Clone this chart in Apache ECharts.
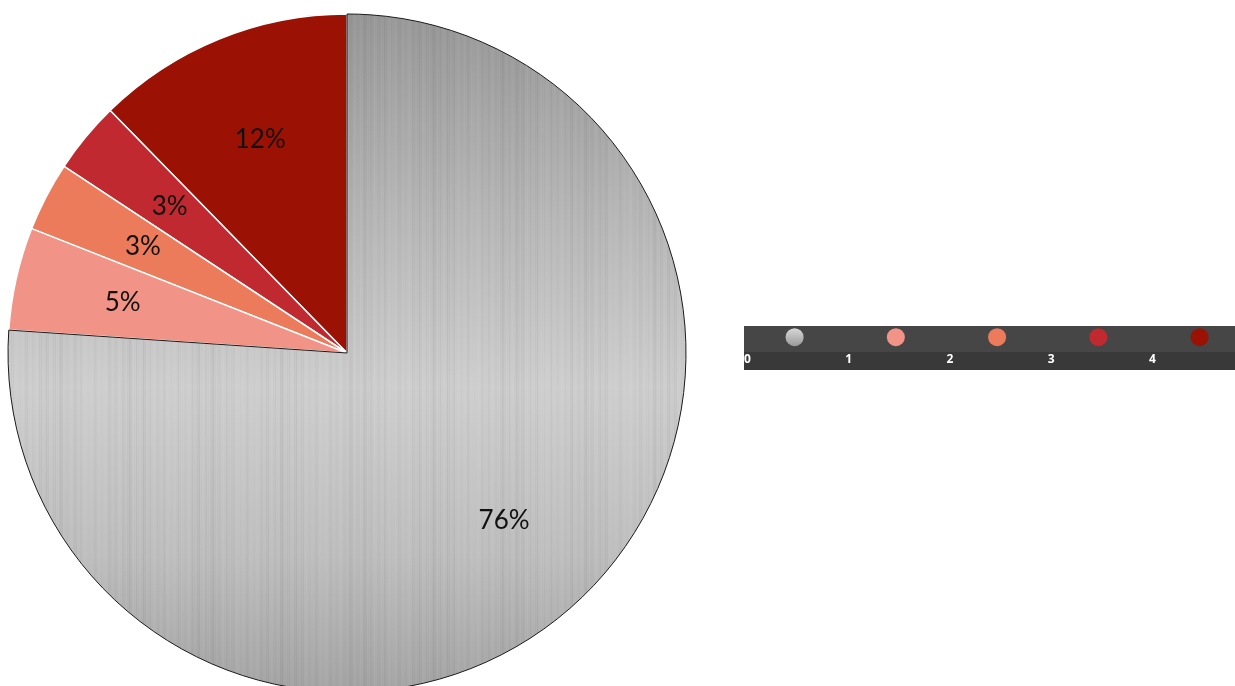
<!DOCTYPE html>
<html>
<head>
<meta charset="utf-8">
<script src="https://cdn.jsdelivr.net/npm/echarts@6/dist/echarts.min.js"></script>
<style>html,body{margin:0;padding:0;background:#fff}#c{width:1235px;height:686px}</style>
</head>
<body>
<div id="c"></div>
<script>
// Data (clockwise from 12 o'clock: gray, pink, orange, red, dark red)
var categories = ['0', '1', '2', '3', '4'];
var values = [76.0, 4.9, 3.3, 3.4, 12.3];
var sliceColors = ['#b9b9b9', '#f19387', '#ec7b5b', '#c0292f', '#9b1204'];
var legendTicks = [0, 1, 2, 3, 4];
var legendPositions = [0.5, 1.5, 2.5, 3.5, 4.5];

// brushed metal texture for the gray slice
function metal() {
  var cv = document.createElement('canvas');
  cv.width = 1235; cv.height = 686;
  var ctx = cv.getContext('2d');
  var g = ctx.createLinearGradient(0, 14, 0, 692);
  g.addColorStop(0, '#989898');
  g.addColorStop(0.3, '#b7b7b7');
  g.addColorStop(0.55, '#cecece');
  g.addColorStop(0.8, '#bebebe');
  g.addColorStop(1, '#a4a4a4');
  ctx.fillStyle = g;
  ctx.fillRect(0, 0, 1235, 686);
  for (var x = 0; x < 700; x++) {
    var v = Math.sin(x * 0.91) * 0.5 + Math.sin(x * 0.37 + 1.3) * 0.3 + Math.sin(x * 2.71 + 0.4) * 0.4 + Math.sin(x * 0.083) * 0.3;
    var a = Math.min(0.09, Math.abs(v) * 0.045);
    ctx.fillStyle = v > 0 ? 'rgba(255,255,255,' + a + ')' : 'rgba(0,0,0,' + a + ')';
    ctx.fillRect(x, 0, 1, 686);
  }
  return cv;
}

var chart = echarts.init(document.getElementById('c'));
var metalCanvas = metal();

// reverse order so gray is drawn last (counterclockwise from top)
var pieData = [];
for (var i = categories.length - 1; i >= 0; i--) {
  var isGray = i === 0;
  pieData.push({
    name: categories[i],
    value: values[i],
    itemStyle: {
      color: isGray ? { image: metalCanvas, repeat: 'no-repeat' } : sliceColors[i],
      borderColor: isGray ? '#1a1a1a' : '#ffffff',
      borderWidth: isGray ? 1 : 1.5
    }
  });
}
var labelData = pieData.map(function (d) { return { name: d.name, value: d.value }; });

var legendData = legendPositions.map(function (x, i) {
  var c = sliceColors[i];
  if (i === 0) {
    c = new echarts.graphic.LinearGradient(0, 0, 0, 1, [
      { offset: 0, color: '#d8d8d8' }, { offset: 1, color: '#9a9a9a' }
    ]);
  }
  return { value: [x, 0.57], itemStyle: { color: c, opacity: 1 } };
});

chart.setOption({
  animation: false,
  graphic: [{
    type: 'rect', z: -1,
    shape: { x: 744, y: 352, width: 491, height: 18 },
    style: { fill: '#393939' }
  }],
  grid: {
    left: 744, top: 326, width: 491, height: 26,
    show: true, backgroundColor: '#464646', borderWidth: 0
  },
  xAxis: {
    type: 'value', min: 0, max: 4.85, interval: 1,
    axisLine: { show: false }, axisTick: { show: false }, splitLine: { show: false },
    axisLabel: {
      color: '#ffffff', fontWeight: 'bold', fontSize: 12, align: 'left', margin: 2,
      fontFamily: 'Open Sans', showMaxLabel: false,
      formatter: function (v) { return legendTicks.indexOf(v) >= 0 ? String(v) : ''; }
    }
  },
  yAxis: { type: 'value', min: 0, max: 1, show: false },
  series: [
    {
      type: 'pie',
      center: [347, 353], radius: [0, 339],
      startAngle: 90, clockwise: false,
      silent: true,
      label: { show: false }, labelLine: { show: false },
      data: pieData
    },
    {
      type: 'pie',
      center: [347, 353], radius: [115, 339],
      startAngle: 90, clockwise: false,
      silent: true,
      itemStyle: { color: 'rgba(0,0,0,0)', borderWidth: 0 },
      label: {
        show: true, position: 'inside', color: '#111', fontSize: 26,
        fontFamily: 'Lato',
        formatter: function (p) { return Math.round(p.percent) + '%'; }
      },
      labelLine: { show: false },
      data: labelData
    },
    {
      type: 'scatter',
      symbolSize: 18,
      data: legendData,
      silent: true
    }
  ]
});
</script>
</body>
</html>
